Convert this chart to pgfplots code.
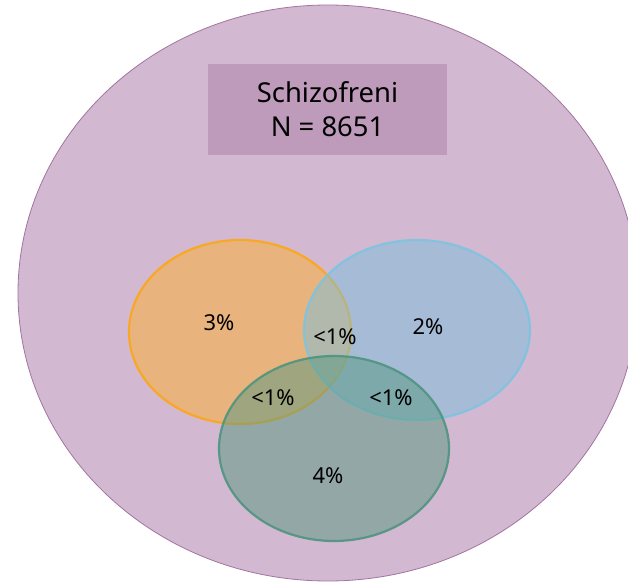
\documentclass[border=0pt]{standalone}
\usepackage{pgfplots}
\pgfplotsset{compat=1.18}
\usepackage{pgfplotstable}
\usepackage{fontspec}
\setmainfont{Noto Sans}
\definecolor{bigfill}{HTML}{D3B8D1}
\definecolor{bigdraw}{HTML}{A274A0}
\definecolor{boxfill}{HTML}{BE9ABB}
\definecolor{orangefill}{RGB}{253,176,43}
\definecolor{orangedraw}{HTML}{F9A825}
\definecolor{bluefill}{RGB}{123,190,219}
\definecolor{bluedraw}{HTML}{7EC4E0}
\definecolor{greenfill}{RGB}{87,152,127}
\definecolor{greendraw}{HTML}{4E9480}

% percentage labels (x, y in picture pixels, label)
\pgfplotstableread{
x   y   lab
219 323 3\%
428 327 2\%
335 337 <1\%
273 398 <1\%
391 398 <1\%
328 476 4\%
}\labels

\begin{document}
\begin{tikzpicture}
\begin{axis}[
  width=628bp, height=584bp, scale only axis,
  xmin=0, xmax=628, ymin=0, ymax=584,
  y dir=reverse,
  hide axis,
  clip=true,
]
% full canvas for the bounding box
\path (axis cs:0,0) rectangle (axis cs:628,584);
% population
\draw[fill=bigfill, draw=bigdraw, line width=0.8bp] (axis cs:328,293) ellipse [x radius=310, y radius=288];
% title box
\node[fill=boxfill, minimum width=239bp, minimum height=91bp, inner sep=0pt,
      align=center, font=\fontsize{27.5}{34}\selectfont] at (axis cs:327.5,109.5)
      {Schizofreni\\N = 8651};
% sets
\draw[fill=orangefill, fill opacity=0.5, draw=orangedraw, line width=2.2bp] (axis cs:240,332) ellipse [x radius=111, y radius=92];
\draw[fill=bluefill, fill opacity=0.5, draw=bluedraw, draw opacity=0.9, line width=2.2bp] (axis cs:417,330) ellipse [x radius=113, y radius=90];
\draw[fill=greenfill, fill opacity=0.5, draw=greendraw, draw opacity=0.9, line width=2.2bp] (axis cs:334,448.5) ellipse [x radius=115, y radius=92.5];
% labels
\addplot[only marks, mark=none, point meta=explicit symbolic,
  nodes near coords, nodes near coords align={center},
  every node near coord/.append style={font=\fontsize{22}{26}\selectfont, text=black, inner sep=0pt}]
  table[x=x, y=y, meta=lab] {\labels};
\end{axis}
\end{tikzpicture}
\end{document}
